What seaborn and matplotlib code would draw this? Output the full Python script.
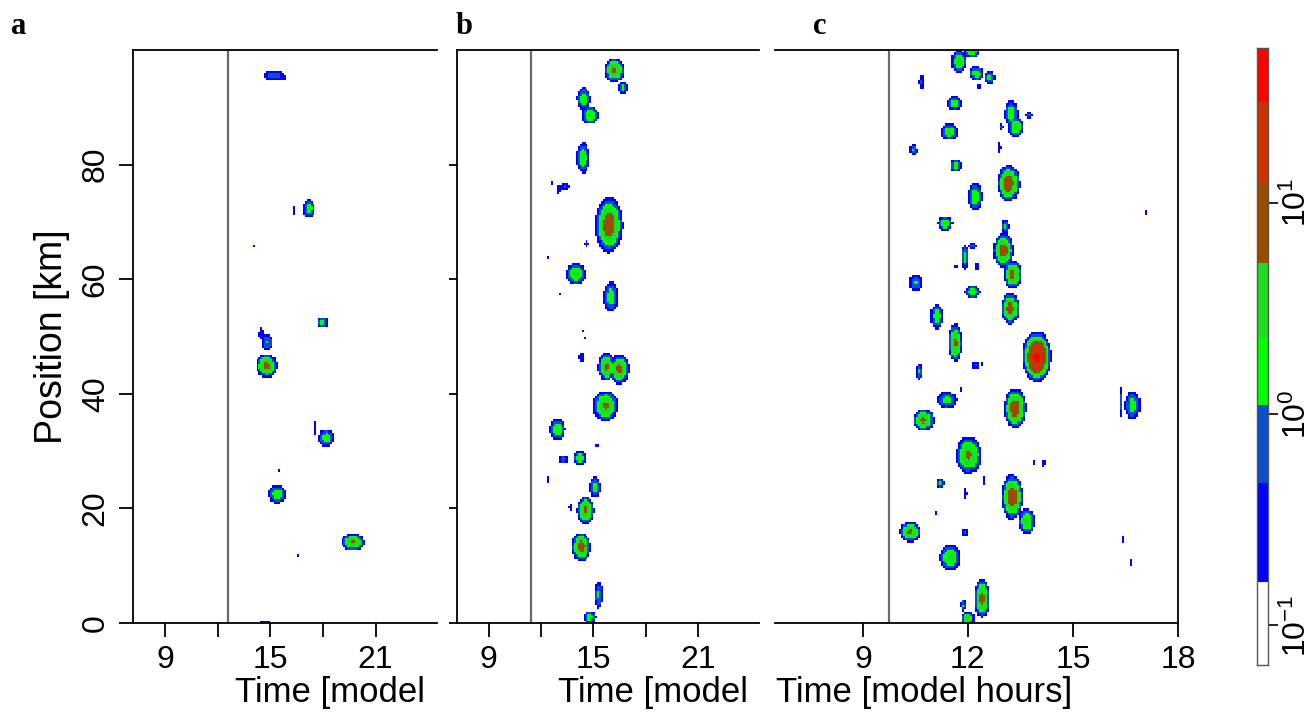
import numpy as np
import matplotlib
matplotlib.use("Agg")
import matplotlib.pyplot as plt
from matplotlib.colors import ListedColormap, BoundaryNorm
import seaborn as sns

# colour classes of the rain-rate legend (lower edges, log spaced as drawn)
levels = [0.065, 0.16, 0.47, 1.1, 2.3, 5.2, 12.5, 30.0, 54.0]
colors = ['#FFFFFF', '#0000FF', '#0A4FCC', '#00FF00', '#1EDC1E',
          '#9A4C00', '#CC3300', '#FF0000']
cbar_ticks = [0.1, 1, 10]

# storm cells:
# centre time [h], centre position [km], full width [h], full height [km], peak
a_time = [15.2, 15.6, 17.2, 16.4, 14.1, 18.0, 14.85, 14.5, 14.8, 18.2, 17.55,
          15.5, 15.4, 19.7, 16.6, 14.7]
a_pos = [95.6, 95.2, 72.3, 72.0, 65.8, 52.4, 49.0, 50.5, 44.9, 32.3, 34.0,
         26.5, 22.5, 14.1, 11.7, 0.2]
a_width = [1.2, 0.5, 0.7, 0.15, 0.12, 0.6, 0.6, 0.25, 1.2, 0.9, 0.15,
           0.15, 1.0, 1.3, 0.12, 0.6]
a_height = [1.8, 0.8, 3.2, 1.8, 0.5, 2.0, 3.0, 2.2, 4.2, 3.0, 2.2,
            0.5, 3.2, 3.0, 0.5, 0.8]
a_peak = [0.8, 0.3, 1.8, 0.35, 0.3, 1.6, 1.2, 0.35, 6.5, 1.8, 0.3,
          0.3, 2.0, 5.5, 0.3, 0.4]

b_time = [16.2, 16.7, 14.45, 14.8, 14.4, 13.35, 13.0, 12.6, 15.9, 14.6, 12.4,
          14.0, 16.0, 13.1, 14.4, 14.45, 14.3, 15.75, 16.5, 15.7, 12.95,
          14.2, 13.3, 15.2, 15.1, 14.55, 13.7, 14.3, 15.3, 14.8, 12.4]
b_pos = [96.5, 93.4, 91.5, 88.6, 81.2, 76.1, 75.7, 76.8, 69.5, 66.2, 63.9,
         60.9, 56.9, 57.4, 51.0, 49.8, 46.4, 44.7, 44.3, 37.9, 33.8,
         28.8, 28.6, 31.0, 23.7, 19.7, 20.2, 13.3, 4.9, 1.0, 25.0]
b_width = [1.2, 0.5, 0.8, 1.0, 0.75, 0.6, 0.15, 0.15, 1.6, 0.25, 0.12,
           1.1, 0.9, 0.12, 0.12, 0.12, 0.4, 1.0, 1.1, 1.5, 0.9,
           0.7, 0.6, 0.15, 0.6, 1.0, 0.2, 1.1, 0.45, 0.75, 0.12]
b_height = [4.2, 2.0, 4.0, 3.2, 5.4, 1.2, 1.8, 0.6, 9.9, 1.2, 0.5,
            3.8, 5.4, 0.6, 0.6, 1.0, 1.5, 5.0, 5.2, 5.4, 4.0,
            2.4, 1.6, 0.6, 3.7, 5.0, 1.5, 5.0, 4.8, 2.4, 1.2]
b_peak = [6.0, 1.5, 2.0, 2.6, 2.4, 0.5, 0.35, 0.3, 10.0, 0.5, 0.3,
          3.0, 2.0, 0.3, 0.3, 0.3, 0.5, 6.0, 6.5, 6.0, 2.2,
          2.6, 0.7, 0.35, 1.6, 6.0, 0.4, 8.0, 1.3, 1.6, 0.3]

c_time = [12.11, 11.75, 12.24, 12.62, 12.32, 10.68, 11.62, 11.47, 13.24, 13.37,
          13.75, 12.95, 10.44, 12.9, 11.66, 13.16, 12.21, 11.35, 13.07, 13.02,
          13.28, 17.08, 16.73, 11.92, 12.13, 12.25, 11.23, 11.64, 10.51, 12.13,
          13.21, 11.11, 11.64, 13.97, 12.21, 12.42, 10.61, 11.78, 11.4, 13.35,
          16.35, 16.7, 10.73, 12.02, 13.88, 14.16, 11.21, 11.94, 12.475, 13.26,
          13.68, 10.35, 11.92, 11.49, 12.4, 11.87, 12.0, 16.42, 16.67, 11.07]
c_pos = [100.0, 98.0, 95.9, 95.2, 93.6, 94.4, 90.7, 85.7, 88.9, 86.6,
         88.6, 86.6, 82.5, 83.0, 79.8, 76.7, 74.4, 69.7, 69.2, 65.0,
         60.8, 71.5, 69.6, 63.9, 65.8, 62.2, 64.8, 62.2, 59.3, 57.8,
         54.9, 53.5, 48.9, 46.5, 45.0, 45.3, 43.9, 40.8, 38.9, 37.5,
         38.6, 38.0, 35.4, 29.3, 28.1, 27.9, 24.4, 22.6, 24.7, 22.0,
         17.7, 15.9, 15.8, 11.4, 4.3, 3.1, 0.8, 14.6, 10.6, 19.2]
c_width = [0.45, 0.45, 0.4, 0.3, 0.15, 0.17, 0.4, 0.5, 0.38, 0.43,
           0.2, 0.12, 0.22, 0.08, 0.32, 0.65, 0.4, 0.43, 0.25, 0.6,
           0.5, 0.1, 0.08, 0.23, 0.2, 0.12, 0.08, 0.08, 0.38, 0.43,
           0.52, 0.35, 0.38, 0.84, 0.2, 0.08, 0.18, 0.08, 0.57, 0.64,
           0.08, 0.46, 0.62, 0.74, 0.08, 0.12, 0.24, 0.08, 0.08, 0.6,
           0.5, 0.6, 0.2, 0.6, 0.48, 0.15, 0.38, 0.08, 0.08, 0.08]
c_height = [2.6, 4.0, 2.5, 2.6, 0.8, 2.6, 2.5, 2.8, 4.6, 3.5,
            1.5, 1.2, 2.0, 2.0, 2.3, 6.4, 4.9, 2.6, 2.5, 6.0,
            5.0, 0.8, 0.4, 4.4, 1.2, 1.4, 0.6, 0.5, 3.0, 2.2,
            5.5, 4.4, 6.8, 9.0, 1.5, 1.0, 2.9, 0.8, 3.0, 7.0,
            5.0, 5.0, 3.9, 6.5, 1.0, 1.2, 1.8, 2.0, 1.6, 8.0,
            4.5, 3.5, 1.5, 4.5, 6.8, 2.0, 2.4, 1.0, 1.2, 0.5]
c_peak = [3.0, 3.0, 2.2, 1.6, 0.4, 0.6, 2.0, 2.8, 2.0, 2.8,
          0.6, 1.0, 1.2, 0.4, 1.6, 11.0, 2.0, 2.5, 1.2, 9.0,
          7.0, 0.4, 0.3, 1.6, 1.0, 0.5, 0.3, 0.3, 1.2, 2.0,
          8.0, 2.2, 6.0, 35.0, 0.5, 0.4, 1.2, 0.35, 1.5, 9.0,
          1.0, 1.6, 6.0, 6.0, 0.35, 0.4, 1.2, 0.4, 0.4, 10.0,
          3.5, 6.0, 0.5, 3.0, 7.0, 1.3, 4.5, 0.3, 0.3, 0.3]

start_lines = [12.57, 11.4, 9.76]


def rain_field(times, pos, widths, heights, peaks, t_edges, x_edges):
    tc = 0.5 * (t_edges[1:] + t_edges[:-1])
    xc = 0.5 * (x_edges[1:] + x_edges[:-1])
    T, X = np.meshgrid(tc, xc)
    field = np.zeros_like(T)
    edge = levels[1]
    for t0, x0, w, h, p in zip(times, pos, widths, heights, peaks):
        q = np.log(p / edge)
        r = np.hypot((T - t0) / (w / 2), (X - x0) / (h / 2))
        field = np.maximum(field, p * np.exp(-q * r ** 2.2))
    return field


sns.set_theme(style='ticks')
plt.rcParams['font.family'] = ['Liberation Sans', 'DejaVu Sans']
plt.rcParams['axes.linewidth'] = 1.3
for key in ['text.color', 'axes.labelcolor', 'xtick.color', 'ytick.color',
            'xtick.labelcolor', 'ytick.labelcolor']:
    plt.rcParams[key] = 'black'

cmap = ListedColormap(colors)
cmap.set_under('white')
norm = BoundaryNorm(levels, cmap.N)

fig = plt.figure(figsize=(13.12, 7.13), dpi=100)
W, H = 1312, 713


def add_ax(x0, x1, y0=50, y1=623):
    return fig.add_axes([x0 / W, 1 - y1 / H, (x1 - x0) / W, (y1 - y0) / H])


ax_a = add_ax(133, 437)
ax_b = add_ax(457, 759)
ax_c = add_ax(775, 1178)

panels = [
    (ax_a, (a_time, a_pos, a_width, a_height, a_peak), (7.18, 24.5), 0.11),
    (ax_b, (b_time, b_pos, b_width, b_height, b_peak), (7.18, 24.5), 0.11),
    (ax_c, (c_time, c_pos, c_width, c_height, c_peak), (6.49, 18.0), 0.06),
]

for i, (ax, cells, xlim, dt) in enumerate(panels):
    t_edges = np.arange(xlim[0], xlim[1] + dt, dt)
    x_edges = np.arange(0, 100.4, 0.4)
    field = rain_field(*cells, t_edges, x_edges)
    ax.pcolormesh(t_edges, x_edges, field, cmap=cmap, norm=norm,
                  shading='flat', rasterized=True)
    ax.axvline(start_lines[i], color='#6a6a6a', lw=1.6)
    ax.set_xlim(*xlim)
    ax.set_ylim(0, 100)
    ax.set_facecolor('white')
    ax.tick_params(axis='both', direction='out', length=10, width=1.3,
                   color='black', labelcolor='black', labelsize=23, pad=6)
    for sp in ax.spines.values():
        sp.set_color('black')
        sp.set_linewidth(1.3)

for ax in (ax_a, ax_b):
    ax.set_xticks([9, 12, 15, 18, 21])
    ax.set_xticklabels(['9', '', '15', '', '21'])
    ax.set_yticks([0, 20, 40, 60, 80])
    sns.despine(ax=ax, top=False, right=True)

ax_a.set_yticklabels(['0', '20', '40', '60', '80'], rotation=90, va='center')
ax_a.set_ylabel('Position [km]', fontsize=27, labelpad=8, color='black')
ax_b.set_yticklabels([])
ax_b.tick_params(axis='y', length=6)

ax_c.set_xticks([9, 12, 15, 18])
ax_c.set_xticklabels(['9', '12', '15', '18'])
ax_c.set_yticks([])
sns.despine(ax=ax_c, top=False, right=False, left=True)

# x labels (the two left panels are cut by their neighbours)
fig.text(235 / W, 1 - 702 / H, 'Time [model', fontsize=25, va='baseline')
fig.text(558 / W, 1 - 702 / H, 'Time [model', fontsize=25, va='baseline')
fig.text(776 / W, 1 - 702 / H, 'Time [model hours]', fontsize=25,
         va='baseline')

for label, x in zip(['a', 'b', 'c'], [11, 456, 813]):
    fig.text(x / W, 1 - 27 / H, label, fontsize=22, fontweight='bold',
             family='Liberation Serif', va='center')

# colour bar
cax = fig.add_axes([1257 / W, 1 - 665 / H, 11 / W, 617 / H])
mids = np.sqrt(np.array(levels[1:]) * np.array(levels[:-1]))
cax.pcolormesh([0, 1], levels, mids.reshape(-1, 1), cmap=cmap, norm=norm,
               shading='flat')
cax.set_yscale('log')
cax.set_ylim(levels[0], levels[-1])
cax.set_xlim(0, 1)
cax.set_xticks([])
cax.yaxis.tick_right()
cax.set_yticks(cbar_ticks)
cax.set_yticklabels([r'$\mathdefault{10^{-1}}$', r'$\mathdefault{10^{0}}$',
                     r'$\mathdefault{10^{1}}$'], rotation=90, va='center')
cax.minorticks_off()
cax.tick_params(axis='y', length=7, width=1.2, labelsize=23, pad=3,
                left=False, right=True, colors='black')
for sp in cax.spines.values():
    sp.set_color('#555555')
    sp.set_linewidth(1.0)

fig.savefig('out.png', dpi=100, facecolor='white')
